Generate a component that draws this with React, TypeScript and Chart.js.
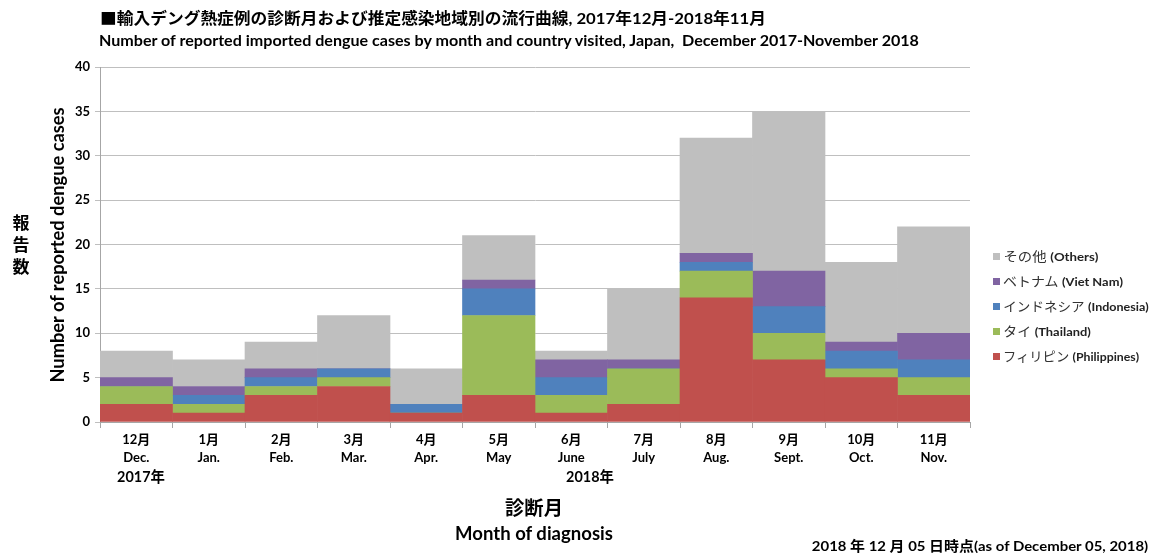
import React, { useEffect, useLayoutEffect, useRef } from "react";
import { Chart, registerables } from "chart.js";

Chart.register(...registerables);

// ---- data ----
const monthsJa = ["12月", "1月", "2月", "3月", "4月", "5月", "6月", "7月", "8月", "9月", "10月", "11月"];
const monthsEn = ["Dec.", "Jan.", "Feb.", "Mar.", "Apr.", "May", "June", "July", "Aug.", "Sept.", "Oct.", "Nov."];
const philippines = [2, 1, 3, 4, 1, 3, 1, 2, 14, 7, 5, 3];
const thailand = [2, 1, 1, 1, 0, 9, 2, 4, 3, 3, 1, 2];
const indonesia = [0, 1, 1, 1, 1, 3, 2, 0, 1, 3, 2, 2];
const vietnam = [1, 1, 1, 0, 0, 1, 2, 1, 1, 4, 1, 3];
const others = [3, 3, 3, 6, 4, 5, 1, 8, 13, 18, 9, 12];
const yMin = 0;
const yMax = 40;
const yStep = 5;

const seriesNames = [
  { ja: "フィリピン", en: "(Philippines)" },
  { ja: "タイ", en: "(Thailand)" },
  { ja: "インドネシア", en: "(Indonesia)" },
  { ja: "ベトナム", en: "(Viet Nam)" },
  { ja: "その他", en: "(Others)" },
];
const seriesColors = ["#C0504D", "#9BBB59", "#4F81BD", "#8064A2", "#BFBFBF"];
const seriesValues = [philippines, thailand, indonesia, vietnam, others];

const FONT = "Lato, 'Noto Sans CJK JP', sans-serif";

type LabelProps = {
  cx: number;
  cy: number;
  width?: number;
  rotate?: boolean;
  style?: React.CSSProperties;
  children: React.ReactNode;
};

function Label({ cx, cy, width, rotate, style, children }: LabelProps) {
  const ref = useRef<HTMLDivElement>(null);
  useLayoutEffect(() => {
    const el = ref.current;
    if (!el) return;
    const w = el.offsetWidth;
    const k = width && w > 0 ? width / w : 1;
    el.style.transform = `${rotate ? "rotate(-90deg) " : ""}scaleX(${k}) translate(-50%, -50%)`;
  }, [width, rotate]);
  return (
    <div
      ref={ref}
      style={{
        position: "absolute",
        left: cx,
        top: cy,
        whiteSpace: "nowrap",
        transformOrigin: "0 0",
        lineHeight: 1,
        fontFamily: FONT,
        color: "#000",
        ...style,
      }}
    >
      {children}
    </div>
  );
}

export default function App() {
  const canvasRef = useRef<HTMLCanvasElement>(null);

  useEffect(() => {
    const canvas = canvasRef.current;
    if (!canvas) return;
    const labels = monthsJa.map((m, i) => [m, monthsEn[i]]);
    const chart = new Chart(canvas, {
      type: "bar",
      data: {
        labels,
        datasets: seriesValues.map((vals, i) => ({
          label: seriesNames[i].ja + " " + seriesNames[i].en,
          data: vals,
          backgroundColor: seriesColors[i],
          borderWidth: 0,
          barPercentage: 1,
          categoryPercentage: 1,
        })),
      },
      options: {
        animation: false,
        responsive: false,
        devicePixelRatio: 1,
        layout: { padding: { left: 0, right: 182, top: 67, bottom: 0 } },
        plugins: {
          legend: { display: false },
          title: { display: false },
          tooltip: { enabled: false },
        },
        scales: {
          x: {
            stacked: true,
            grid: {
              display: true,
              drawOnChartArea: false,
              drawTicks: true,
              tickLength: 6,
              color: "#A6A6A6",
              offset: true,
            },
            border: { display: true, color: "#A6A6A6" },
            ticks: {
              font: { family: FONT, size: 13, weight: "bold", lineHeight: 1.4 },
              color: "#000",
              padding: 3,
              maxRotation: 0,
              autoSkip: false,
            },
            afterFit: (s: any) => {
              s.height = 131;
            },
          },
          y: {
            stacked: true,
            min: yMin,
            max: yMax,
            ticks: {
              stepSize: yStep,
              font: { family: FONT, size: 13, weight: "bold" },
              color: "#000",
              padding: 5,
            },
            grid: { color: "#BFBFBF", tickLength: 5 },
            border: { display: true, color: "#A6A6A6" },
            afterFit: (s: any) => {
              s.width = 100;
            },
          },
        },
      },
    });
    return () => chart.destroy();
  }, []);

  const legendRows = [4, 3, 2, 1, 0];
  const legendY = [256, 281, 306, 331, 356];
  const legendEnds = [1098, 1123, 1148, 1091, 1139];

  return (
    <div
      style={{
        position: "fixed",
        left: 0,
        top: 0,
        width: 1152,
        height: 553,
        background: "#fff",
        overflow: "hidden",
      }}
    >
      <canvas ref={canvasRef} width={1152} height={553} style={{ position: "absolute", left: 0, top: 0 }} />

      <Label cx={433} cy={18} width={666} style={{ fontSize: 16, fontWeight: 700 }}>
        ■輸入デング熱症例の診断月および推定感染地域別の流行曲線, 2017年12月-2018年11月
      </Label>
      <Label cx={509} cy={40} width={820} style={{ fontSize: 15, fontWeight: 700 }}>
        Number of reported imported dengue cases by month and country visited, Japan,&nbsp; December 2017-November 2018
      </Label>

      <Label cx={57} cy={245} width={275} rotate style={{ fontSize: 18, fontWeight: 700 }}>
        Number of reported dengue cases
      </Label>
      <div
        style={{
          position: "absolute",
          left: 10,
          top: 212,
          width: 22,
          textAlign: "center",
          fontFamily: FONT,
          fontSize: 17,
          fontWeight: 700,
          lineHeight: "22px",
          color: "#000",
        }}
      >
        <div>報</div>
        <div>告</div>
        <div>数</div>
      </div>

      <Label cx={141} cy={476} width={48} style={{ fontSize: 15, fontWeight: 700 }}>
        2017年
      </Label>
      <Label cx={590} cy={476} width={48} style={{ fontSize: 15, fontWeight: 700 }}>
        2018年
      </Label>

      <Label cx={534} cy={507} width={58} style={{ fontSize: 19, fontWeight: 700 }}>
        診断月
      </Label>
      <Label cx={534} cy={532} width={158} style={{ fontSize: 19, fontWeight: 700 }}>
        Month of diagnosis
      </Label>

      <Label cx={980} cy={546} width={336} style={{ fontSize: 14, fontWeight: 700 }}>
        2018 年 12 月 05 日時点(as of December 05, 2018)
      </Label>

      {legendRows.map((si, r) => (
        <React.Fragment key={si}>
          <div
            style={{
              position: "absolute",
              left: 993,
              top: legendY[r] - 3,
              width: 7,
              height: 7,
              background: seriesColors[si],
            }}
          />
          <Label
            cx={(1003 + legendEnds[r]) / 2}
            cy={legendY[r]}
            width={legendEnds[r] - 1003}
            style={{ fontSize: 13, color: "#222" }}
          >
            <span style={{ fontWeight: 400, color: "#333" }}>{seriesNames[si].ja}</span>{" "}
            <span style={{ fontWeight: 700, fontSize: 12 }}>{seriesNames[si].en}</span>
          </Label>
        </React.Fragment>
      ))}
    </div>
  );
}
